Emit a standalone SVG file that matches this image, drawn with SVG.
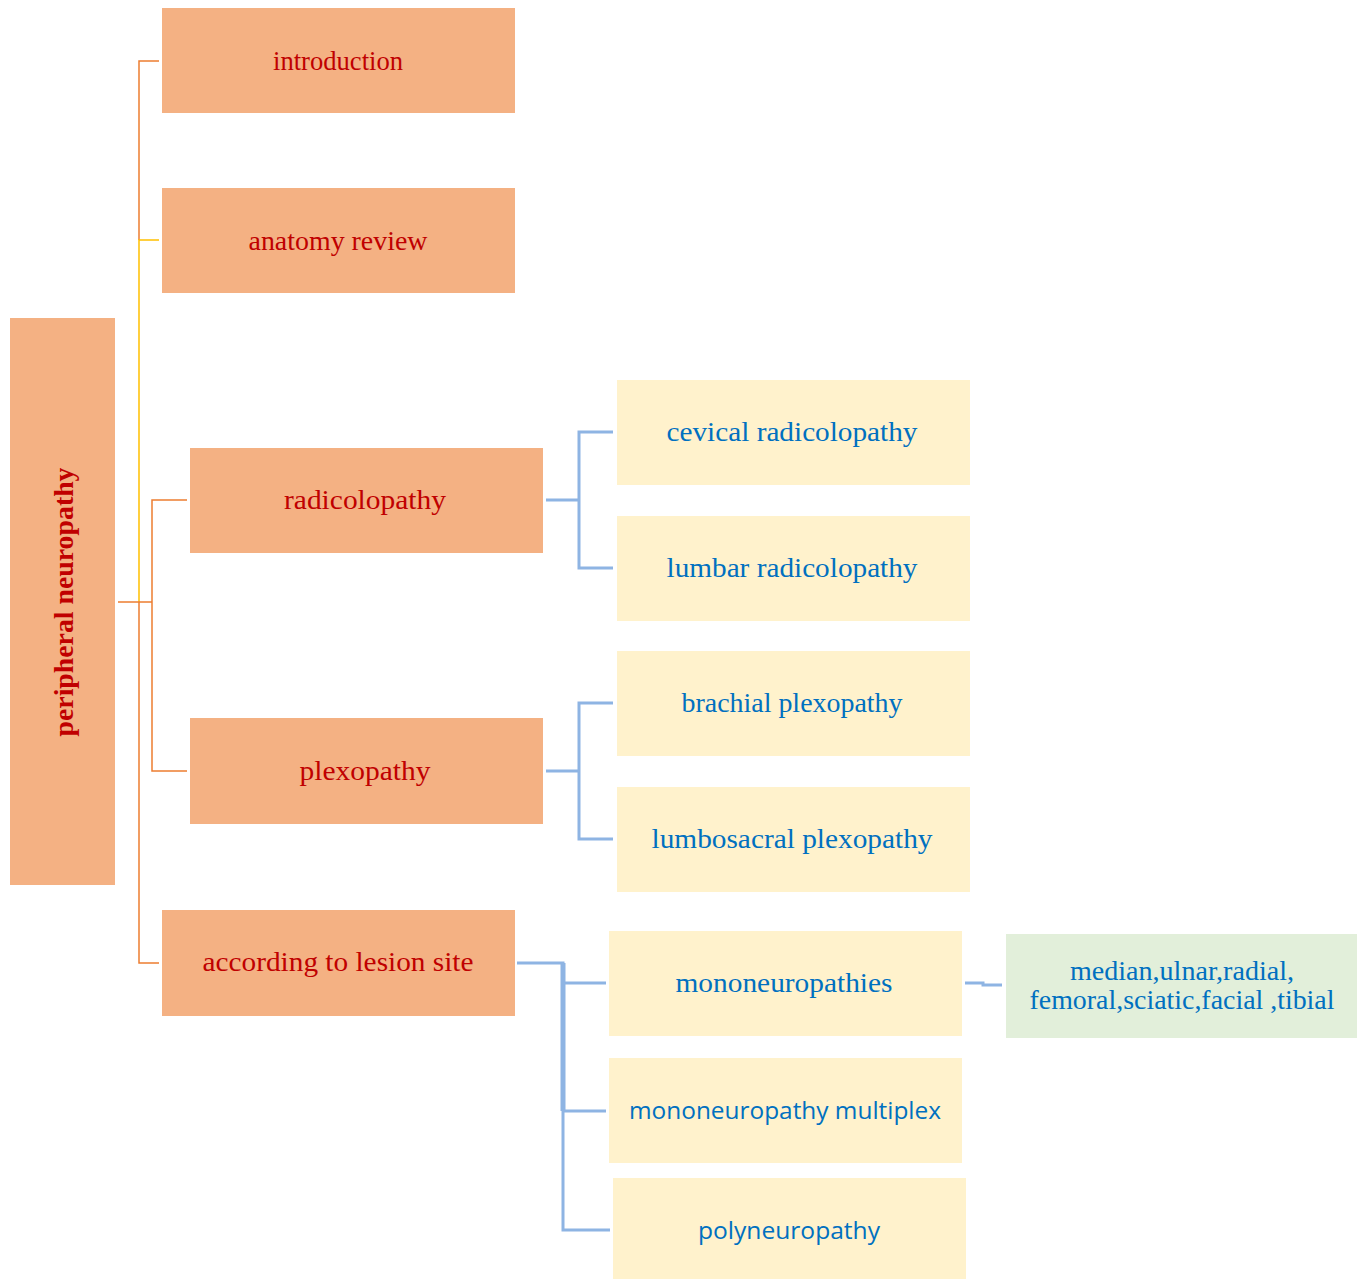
<svg xmlns="http://www.w3.org/2000/svg" width="1357" height="1279" viewBox="0 0 1357 1279">
<style>
.o{fill:#F4B183}
.y{fill:#FFF2CC}
.g{fill:#E2EFDA}
text{lengthAdjust:spacingAndGlyphs}
.rt{font-family:"Liberation Serif",serif;font-size:27px;fill:#C00000;text-anchor:middle}
.bt{font-family:"Liberation Serif",serif;font-size:27px;fill:#0070C0;text-anchor:middle}
.st{font-family:"Open Sans",sans-serif;font-size:24px;fill:#0070C0;text-anchor:middle}
.co{fill:none;stroke:#ED7D31;stroke-width:1.5}
.cy{fill:none;stroke:#FFC000;stroke-width:1.5}
.cb{fill:none;stroke:#8EB4E3;stroke-width:3}
</style>
<rect width="1357" height="1279" fill="#fff"/>
<g id="connectors">
<path class="co" d="M159 61H139V240"/>
<path class="cy" d="M159 240H139V602"/>
<path class="co" d="M139 602V963H159"/>
<path class="co" d="M118 602H152M187 500H152V771H187"/>
<path class="cb" d="M546 500H579M613 432H579V568H613"/>
<path class="cb" d="M546 771H579M613 703H579V839H613"/>
<path class="cb" d="M517 963H563V1230H610M563 983H606M563 1111H606"/>
<path fill="none" stroke="#8EB4E3" stroke-width="5" d="M563 963V1111"/>
<path fill="none" stroke="#8EB4E3" stroke-width="3" d="M965 983H983V985H1002"/>
</g>
<g id="n-root"><rect class="o" x="10" y="318" width="105" height="567"/><text class="rt" font-weight="bold" textLength="269" lengthAdjust="spacingAndGlyphs" transform="translate(73 602) rotate(-90)">peripheral neuropathy</text></g>
<g id="n-intro"><rect class="o" x="162" y="8" width="353" height="105"/><text class="rt" x="338" y="70" textLength="130" lengthAdjust="spacingAndGlyphs">introduction</text></g>
<g id="n-anat"><rect class="o" x="162" y="188" width="353" height="105"/><text class="rt" x="338" y="250" textLength="179" lengthAdjust="spacingAndGlyphs">anatomy review</text></g>
<g id="n-radic"><rect class="o" x="190" y="448" width="353" height="105"/><text class="rt" x="365" y="509" textLength="162" lengthAdjust="spacingAndGlyphs">radicolopathy</text></g>
<g id="n-plex"><rect class="o" x="190" y="718" width="353" height="106"/><text class="rt" x="365" y="780" textLength="131" lengthAdjust="spacingAndGlyphs">plexopathy</text></g>
<g id="n-lesion"><rect class="o" x="162" y="910" width="353" height="106"/><text class="rt" x="338" y="971" textLength="271" lengthAdjust="spacingAndGlyphs">according to lesion site</text></g>
<g id="n-cerv"><rect class="y" x="617" y="380" width="353" height="105"/><text class="bt" x="792" y="441" textLength="251" lengthAdjust="spacingAndGlyphs">cevical radicolopathy</text></g>
<g id="n-lumb"><rect class="y" x="617" y="516" width="353" height="105"/><text class="bt" x="792" y="577" textLength="251" lengthAdjust="spacingAndGlyphs">lumbar radicolopathy</text></g>
<g id="n-brach"><rect class="y" x="617" y="651" width="353" height="105"/><text class="bt" x="792" y="712" textLength="221" lengthAdjust="spacingAndGlyphs">brachial plexopathy</text></g>
<g id="n-lumbos"><rect class="y" x="617" y="787" width="353" height="105"/><text class="bt" x="792" y="848" textLength="281" lengthAdjust="spacingAndGlyphs">lumbosacral plexopathy</text></g>
<g id="n-mono"><rect class="y" x="609" y="931" width="353" height="105"/><text class="bt" x="784" y="992" textLength="217" lengthAdjust="spacingAndGlyphs">mononeuropathies</text></g>
<g id="n-multi"><rect class="y" x="609" y="1058" width="353" height="105"/><text class="st" x="785" y="1119" textLength="312" lengthAdjust="spacingAndGlyphs">mononeuropathy multiplex</text></g>
<g id="n-poly"><rect class="y" x="613" y="1178" width="353" height="101"/><text class="st" x="789" y="1239" textLength="182" lengthAdjust="spacingAndGlyphs">polyneuropathy</text></g>
<g id="n-nerves"><rect class="g" x="1006" y="934" width="351" height="104"/><text class="bt" x="1182" y="980" textLength="224" lengthAdjust="spacingAndGlyphs">median,ulnar,radial,</text><text class="bt" x="1182" y="1009" textLength="305" lengthAdjust="spacingAndGlyphs">femoral,sciatic,facial ,tibial</text></g>
</svg>
